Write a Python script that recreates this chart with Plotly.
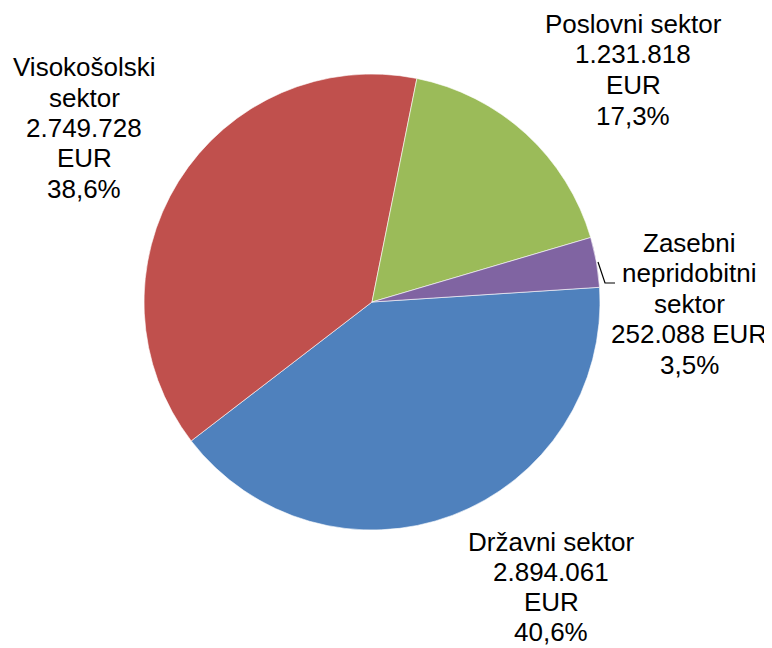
import plotly.graph_objects as go

# ---- data ----
sectors = ["Državni sektor", "Visokošolski sektor", "Poslovni sektor", "Zasebni nepridobitni sektor"]
label_lines = [
    ["Državni sektor"],
    ["Visokošolski", "sektor"],
    ["Poslovni sektor"],
    ["Zasebni", "nepridobitni", "sektor"],
]
values = [2894061, 2749728, 1231818, 252088]
colors = ["#4F81BD", "#C0504D", "#9BBB59", "#8064A2"]

# page has an 8px body margin; work in screen pixels and convert
OFF = 8
W, H = 772 - OFF, 648 - OFF
cx, cy, r = 372, 302, 228


def px2x(x):
    return (x - OFF) / W


def px2y(y):
    return 1 - (y - OFF) / H


total = sum(values)


def fmt_int(v):
    return f"{v:,}".replace(",", ".")


def fmt_pct(v):
    return f"{100 * v / total:.1f}".replace(".", ",") + "%"


label_texts = []
for i, v in enumerate(values):
    if i == 3:
        lines = label_lines[i] + [fmt_int(v) + " EUR", fmt_pct(v)]
    else:
        lines = label_lines[i] + [fmt_int(v), "EUR", fmt_pct(v)]
    label_texts.append(lines)

# label block positions (first line centre, screen px) and line spacing
label_pos = [(551, 542), (84, 67), (633, 24), (689, 242.5)]
line_h = [30, 30.5, 30.5, 30.5]

fig = go.Figure(
    go.Pie(
        labels=sectors,
        values=values,
        sort=False,
        direction="clockwise",
        rotation=86.3,
        marker=dict(colors=colors, line=dict(color="white", width=0.6)),
        textinfo="none",
        hoverinfo="label+value+percent",
        showlegend=False,
        domain=dict(x=[px2x(cx - r), px2x(cx + r)], y=[px2y(cy + r), px2y(cy - r)]),
    )
)

annotations = []
for (px, py), lh, lines in zip(label_pos, line_h, label_texts):
    for k, t in enumerate(lines):
        annotations.append(
            dict(
                x=px2x(px),
                y=px2y(py + k * lh),
                xref="paper",
                yref="paper",
                text=t,
                showarrow=False,
                xanchor="center",
                yanchor="middle",
                font=dict(family="Liberation Sans, Arial, sans-serif", size=26, color="black"),
            )
        )

# leader line for the small slice
lx = [598, 605, 615]
ly = [262, 283, 283]
path = "M " + " L ".join(f"{px2x(x)},{px2y(y)}" for x, y in zip(lx, ly))

fig.update_layout(
    width=W,
    height=H,
    margin=dict(l=0, r=0, t=0, b=0),
    paper_bgcolor="white",
    plot_bgcolor="white",
    annotations=annotations,
    shapes=[dict(type="path", path=path, xref="paper", yref="paper", line=dict(color="black", width=1.2))],
)

fig.write_html("out.html")
